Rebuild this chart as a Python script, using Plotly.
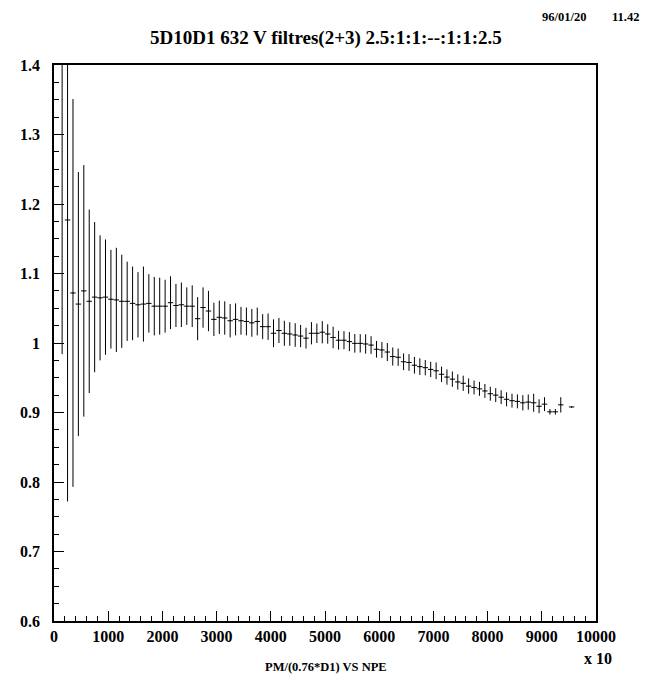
import plotly.graph_objects as go

# Bin centers (x, in units of 10 NPE) and profile values
x_centers = [150, 250, 350, 450, 550, 650, 750, 850, 950, 1050,
             1150, 1250, 1350, 1450, 1550, 1650, 1750, 1850, 1950, 2050,
             2150, 2250, 2350, 2450, 2550, 2650, 2750, 2850, 2950, 3050,
             3150, 3250, 3350, 3450, 3550, 3650, 3750, 3850, 3950, 4050,
             4150, 4250, 4350, 4450, 4550, 4650, 4750, 4850, 4950, 5050,
             5150, 5250, 5350, 5450, 5550, 5650, 5750, 5850, 5950, 6050,
             6150, 6250, 6350, 6450, 6550, 6650, 6750, 6850, 6950, 7050,
             7150, 7250, 7350, 7450, 7550, 7650, 7750, 7850, 7950, 8050,
             8150, 8250, 8350, 8450, 8550, 8650, 8750, 8850, 8950, 9050,
             9150, 9250, 9350, 9550]

y_values = [1.450, 1.177, 1.072, 1.056, 1.075, 1.060, 1.066, 1.065, 1.066, 1.063,
            1.062, 1.060, 1.060, 1.057, 1.055, 1.056, 1.057, 1.053, 1.053, 1.053,
            1.058, 1.054, 1.055, 1.053, 1.053, 1.035, 1.051, 1.046, 1.034, 1.037,
            1.036, 1.032, 1.034, 1.032, 1.031, 1.029, 1.031, 1.0235, 1.0235, 1.014,
            1.018, 1.014, 1.013, 1.0115, 1.010, 1.007, 1.014, 1.014, 1.0155, 1.013,
            1.008, 1.004, 1.004, 1.002, 0.9995, 0.9995, 0.9986, 0.997, 0.991, 0.990,
            0.987, 0.9805, 0.9795, 0.973, 0.972, 0.968, 0.966, 0.9645, 0.962, 0.960,
            0.955, 0.951, 0.948, 0.944, 0.942, 0.938, 0.936, 0.934, 0.931, 0.927,
            0.925, 0.922, 0.919, 0.917, 0.916, 0.914, 0.915, 0.914, 0.909, 0.912,
            0.901, 0.901, 0.911, 0.908]

y_errors = [0.466, 0.405, 0.279, 0.190, 0.181, 0.132, 0.108, 0.090, 0.083, 0.071,
            0.075, 0.067, 0.057, 0.053, 0.047, 0.054, 0.042, 0.042, 0.041, 0.038,
            0.038, 0.031, 0.032, 0.027, 0.030, 0.031, 0.029, 0.029, 0.024, 0.024,
            0.024, 0.024, 0.023, 0.020, 0.020, 0.020, 0.020, 0.018, 0.019, 0.020,
            0.018, 0.018, 0.017, 0.017, 0.016, 0.015, 0.016, 0.014, 0.016, 0.014,
            0.0155, 0.0135, 0.013, 0.0137, 0.0134, 0.0132, 0.0139, 0.0127, 0.012, 0.0115,
            0.013, 0.013, 0.0125, 0.012, 0.012, 0.012, 0.012, 0.011, 0.011, 0.012,
            0.011, 0.011, 0.011, 0.011, 0.011, 0.011, 0.010, 0.010, 0.010, 0.010,
            0.010, 0.010, 0.010, 0.010, 0.010, 0.011, 0.011, 0.013, 0.010, 0.010,
            0.004, 0.004, 0.011, 0.001]

bin_half_width = 50

title_text = "5D10D1 632 V filtres(2+3) 2.5:1:1:--:1:1:2.5"
date_text = "96/01/20"
time_text = "11.42"
x_title = "PM/(0.76*D1) VS NPE"
x_scale_text = "x 10"

x_tickvals = [0, 1000, 2000, 3000, 4000, 5000, 6000, 7000, 8000, 9000, 10000]
x_ticktext = ["0", "1000", "2000", "3000", "4000", "5000", "6000", "7000", "8000", "9000", "10000"]
y_tickvals = [0.6, 0.7, 0.8, 0.9, 1.0, 1.1, 1.2, 1.3, 1.4]
y_ticktext = ["0.6", "0.7", "0.8", "0.9", "1", "1.1", "1.2", "1.3", "1.4"]

FONT = "Liberation Serif"

fig = go.Figure()
fig.add_trace(go.Scatter(
    x=x_centers, y=y_values, mode="markers",
    marker=dict(size=1, color="black"),
    error_y=dict(type="data", array=y_errors, visible=True,
                 color="black", thickness=1, width=0),
    error_x=dict(type="data", array=[bin_half_width] * len(x_centers), visible=True,
                 color="black", thickness=1, width=0),
    showlegend=False, hoverinfo="skip",
))

fig.update_layout(
    width=641, height=672,
    margin=dict(l=44, r=53, t=57, b=59),
    paper_bgcolor="white", plot_bgcolor="white",
    font=dict(family=FONT, color="black", size=16, weight="bold"),
    xaxis=dict(range=[0, 10000], tickvals=x_tickvals, ticktext=x_ticktext,
               ticks="inside", ticklen=10, tickwidth=1, tickcolor="black",
               minor=dict(dtick=200, ticks="inside", ticklen=5, tickwidth=1, tickcolor="black"),
               showline=True, linecolor="black", linewidth=1.5, mirror=True,
               showgrid=False, zeroline=False,
               tickfont=dict(family=FONT, size=16, weight="bold"),
               ticklabelstandoff=0),
    yaxis=dict(range=[0.6, 1.4], tickvals=y_tickvals, ticktext=y_ticktext,
               ticks="inside", ticklen=10, tickwidth=1, tickcolor="black",
               minor=dict(dtick=0.025, tick0=0.6, ticks="inside", ticklen=5, tickwidth=1, tickcolor="black"),
               showline=True, linecolor="black", linewidth=1.5, mirror=True,
               showgrid=False, zeroline=False,
               tickfont=dict(family=FONT, size=16, weight="bold"),
               ticklabelstandoff=9),
    annotations=[
        dict(text=title_text, xref="paper", yref="paper", x=0.502, y=1.0486,
             xanchor="center", yanchor="middle", showarrow=False,
             font=dict(family=FONT, size=19, weight="bold")),
        dict(text=date_text, xref="paper", yref="paper", x=(588 - 52) / 544, y=(621 - 8) / 556,
             xanchor="right", yanchor="top", showarrow=False,
             font=dict(family=FONT, size=12.5, weight="bold")),
        dict(text=time_text, xref="paper", yref="paper", x=(641 - 52) / 544, y=(621 - 8) / 556,
             xanchor="right", yanchor="top", showarrow=False,
             font=dict(family=FONT, size=12.5, weight="bold")),
        dict(text=x_title, xref="paper", yref="paper", x=0.502, y=-0.0827,
             xanchor="center", yanchor="middle", showarrow=False,
             font=dict(family=FONT, size=12.5, weight="bold")),
        dict(text=x_scale_text, xref="paper", yref="paper", x=1.0037, y=-0.068,
             xanchor="center", yanchor="middle", showarrow=False,
             font=dict(family=FONT, size=16, weight="bold")),
    ],
)

fig.write_html("out.html")
